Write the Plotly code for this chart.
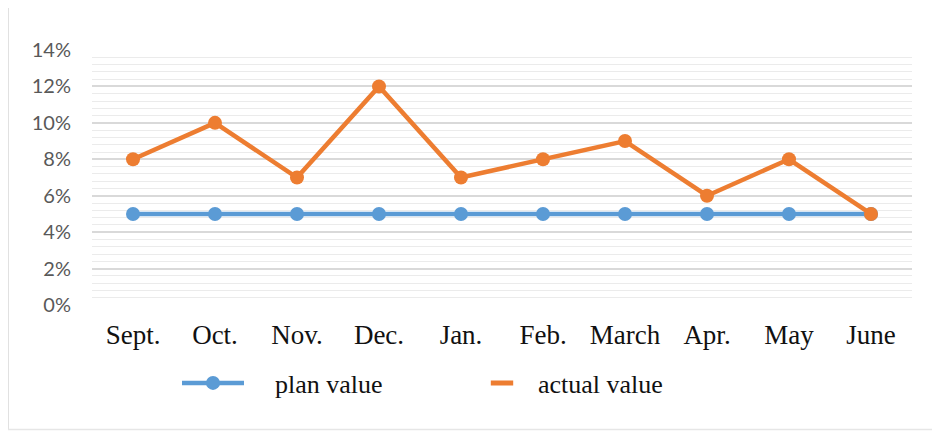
import plotly.graph_objects as go

months = ["Sept.", "Oct.", "Nov.", "Dec.", "Jan.", "Feb.", "March", "Apr.", "May", "June"]
plan_value = [0.05, 0.05, 0.05, 0.05, 0.05, 0.05, 0.05, 0.05, 0.05, 0.05]
actual_value = [0.08, 0.10, 0.07, 0.12, 0.07, 0.08, 0.09, 0.06, 0.08, 0.05]
y_ticks = [0, 0.02, 0.04, 0.06, 0.08, 0.10, 0.12, 0.14]

BLUE = "#5B9BD5"
ORANGE = "#ED7D31"

# page body has an 8px margin; figure coordinates = screenshot coordinates - 8
OFF = 8
W, H = 940 - OFF, 431 - OFF
L, R, T, B = 92 - OFF, 28, 50 - OFF, 126
pw, ph = W - L - R, H - T - B

def px(x):
    return (x - OFF - L) / pw

def py(y):
    return (H - B - (y - OFF)) / ph

NB = "\u00a0"

fig = go.Figure()
fig.add_trace(go.Scatter(
    x=months, y=plan_value, name=NB * 4 + "plan value", mode="lines+markers",
    line=dict(color=BLUE, width=4.5), marker=dict(color=BLUE, size=14),
))
fig.add_trace(go.Scatter(
    x=months, y=actual_value, name="actual value", mode="lines+markers",
    line=dict(color=ORANGE, width=4.5), marker=dict(color=ORANGE, size=14),
    showlegend=False, legendgroup="actual",
))
# legend-only entry showing the short orange dash
fig.add_trace(go.Scatter(
    x=[None], y=[None], name="actual value", mode="markers", legendgroup="actual",
    marker=dict(symbol="line-ew", size=18, line=dict(color=ORANGE, width=5)),
))

shapes = [
    dict(type="line", xref="paper", yref="paper", x0=px(7), x1=px(7), y0=py(7), y1=py(430),
         line=dict(color="#c4c4c4", width=3)),
    dict(type="line", xref="paper", yref="paper", x0=px(7), x1=px(940), y0=py(7), y1=py(7),
         line=dict(color="#dcdcdc", width=1.5)),
    dict(type="line", xref="paper", yref="paper", x0=px(7), x1=px(940), y0=py(429.5), y1=py(429.5),
         line=dict(color="#e6e6e6", width=1.5)),
]

fig.update_layout(
    width=W, height=H,
    margin=dict(l=L, r=R, t=T, b=B),
    paper_bgcolor="white", plot_bgcolor="white",
    showlegend=True,
    legend=dict(
        orientation="h", x=px(177), xanchor="left", y=py(383), yanchor="middle",
        font=dict(family="Liberation Serif", size=26, color="#111111"),
        itemwidth=62, entrywidth=212, bgcolor="rgba(0,0,0,0)",
    ),
    shapes=shapes,
    xaxis=dict(
        type="category", range=[-0.5, 9.5], showgrid=False, showline=False,
        zeroline=False, ticks="", tickfont=dict(family="Liberation Serif", size=27, color="#111111"),
        ticklabelstandoff=11,
    ),
    yaxis=dict(
        range=[0, 0.14], tickvals=y_ticks, tickformat=".0%",
        showgrid=True, gridcolor="#d9d9d9", gridwidth=1.5, zeroline=False, showline=False,
        tickfont=dict(family="Lato", size=20, color="#595959"),
        ticklabelstandoff=20,
        minor=dict(dtick=0.004, tick0=0, showgrid=True, gridcolor="#ebebeb", gridwidth=1),
    ),
)

fig.write_html("out.html")
